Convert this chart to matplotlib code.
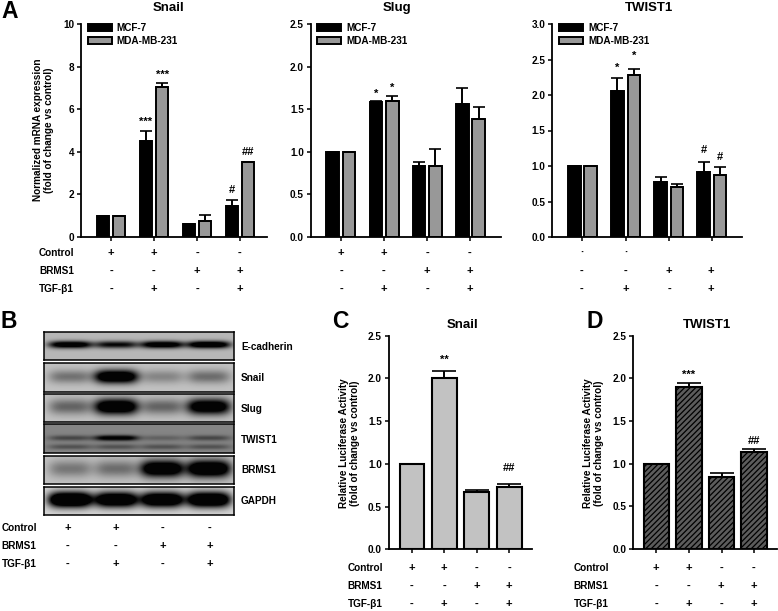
import numpy as np
import matplotlib
matplotlib.use("Agg")
import matplotlib.pyplot as plt

plt.rcParams['font.family'] = ['Liberation Sans', 'DejaVu Sans']
plt.rcParams['font.weight'] = 'bold'
plt.rcParams['hatch.linewidth'] = 0.9

W, H = 778, 611

# panel A values
snail_mcf = [1, 4.5, 0.62, 1.47]
snail_mcf_err = [0, 0.5, 0, 0.25]
snail_mda = [1, 7.05, 0.75, 3.5]
snail_mda_err = [0, 0.2, 0.3, 0]
slug_mcf = [1, 1.58, 0.83, 1.56]
slug_mcf_err = [0, 0.02, 0.05, 0.19]
slug_mda = [1, 1.6, 0.83, 1.38]
slug_mda_err = [0, 0.05, 0.2, 0.15]
twist_mcf = [1, 2.05, 0.78, 0.92]
twist_mcf_err = [0, 0.19, 0.06, 0.14]
twist_mda = [1, 2.28, 0.7, 0.88]
twist_mda_err = [0, 0.09, 0.05, 0.11]

# panels C, D
luc_snail = [1, 2.0, 0.67, 0.73]
luc_snail_err = [0, 0.09, 0.02, 0.03]
luc_twist = [1, 1.9, 0.84, 1.14]
luc_twist_err = [0, 0.04, 0.05, 0.03]

row_names = ["Control", "BRMS1", "TGF-β1"]
signs = [["+", "+", "-", "-"], ["-", "-", "+", "+"], ["-", "+", "-", "+"]]
signs_twist = [["·", "·", "", ""], ["-", "-", "+", "+"], ["-", "+", "-", "+"]]

# panel B band darkness per lane
blot_names = ["E-cadherin", "Snail", "Slug", "TWIST1", "BRMS1", "GAPDH"]
blot_back = [0.72, 0.76, 0.76, 0.52, 0.76, 0.84]
blot_bands = [[1.3, 1.0, 1.3, 1.4],
              [0.42, 1.5, 0.32, 0.45],
              [0.5, 1.5, 0.5, 1.4],
              [0.5, 1.3, 0.28, 0.5],
              [0.4, 0.45, 1.5, 1.6],
              [1.8, 1.6, 1.6, 1.7]]
blot_thick = [0.13, 0.24, 0.28, 0.09, 0.3, 0.27]


def px_axes(left, top, right, bottom):
    return fig.add_axes([left / W, 1 - bottom / H, (right - left) / W, (bottom - top) / H])


def put(x, y, s, size=7.2, ha='center', va='center', **kw):
    fig.text(x / W, 1 - y / H, s, fontsize=size, ha=ha, va=va, **kw)


def style(ax, ymax, step):
    ax.set_ylim(0, ymax)
    ax.set_yticks(np.arange(0, ymax + step / 2, step))
    ax.set_xticks(range(4))
    ax.set_xticklabels([])
    for s in ['top', 'right']:
        ax.spines[s].set_visible(False)
    for s in ['left', 'bottom']:
        ax.spines[s].set_linewidth(1.3)
    ax.tick_params(width=1.1, length=3, labelsize=7.2, pad=2)


def grouped(ax, a, a_err, b, b_err):
    x = np.arange(4)
    kw = dict(ecolor='black', capsize=4.3, capthick=1.2, elinewidth=1.4)
    h1 = ax.bar(x - 0.19, a, 0.29, color='black', edgecolor='black', linewidth=1.4,
                yerr=[np.zeros(4), a_err], error_kw=kw, label='MCF-7')
    h2 = ax.bar(x + 0.19, b, 0.29, color='#989898', edgecolor='black', linewidth=1.4,
                yerr=[np.zeros(4), b_err], error_kw=kw, label='MDA-MB-231')
    ax.legend(handles=[h1, h2], loc='upper left', bbox_to_anchor=(0.035, 1.004), frameon=False,
              fontsize=7.2, handlelength=2.4, handleheight=0.65, labelspacing=0.3,
              handletextpad=0.5, borderpad=0, borderaxespad=0)


def sign_rows(xs, ys, table, label_x):
    for i, name in enumerate(row_names):
        if label_x is not None:
            put(label_x, ys[i], name, ha='right')
        for x, s in zip(xs, table[i]):
            put(x, ys[i], s, 8)


def marks(ax, xs, ys, texts):
    for x, y, t in zip(xs, ys, texts):
        ax.text(x, y, t, ha='center', va='center', fontsize=8)


fig = plt.figure(figsize=(W / 100, H / 100), dpi=100)

# A
ax1 = px_axes(81, 24, 267, 237)
grouped(ax1, snail_mcf, snail_mcf_err, snail_mda, snail_mda_err)
style(ax1, 10, 2)
ax1.set_xlim(-0.70, 3.63)
marks(ax1, [0.81, 1.19, 2.81, 3.19], [5.4, 7.62, 2.2, 3.97], ["***", "***", "#", "##"])

ax2 = px_axes(310.7, 24, 500.7, 237)
grouped(ax2, slug_mcf, slug_mcf_err, slug_mda, slug_mda_err)
style(ax2, 2.5, 0.5)
ax2.set_xlim(-0.70, 3.70)
marks(ax2, [0.81, 1.19], [1.68, 1.75], ["*", "*"])

ax3 = px_axes(552.3, 24, 742, 237)
grouped(ax3, twist_mcf, twist_mcf_err, twist_mda, twist_mda_err)
style(ax3, 3.0, 0.5)
ax3.set_xlim(-0.70, 3.70)
marks(ax3, [0.81, 1.19, 2.81, 3.19], [2.38, 2.55, 1.22, 1.13], ["*", "*", "#", "#"])

rows_a = [253, 270.7, 288.7]
sign_rows([111, 154, 197, 240], rows_a, signs, 74)
sign_rows([341, 384, 427, 470], rows_a, signs, None)
sign_rows([582, 626, 669, 711], rows_a, signs_twist, None)

put(168.7, 8, "Snail", 9.5)
put(397, 8, "Slug", 9.5)
put(648.7, 8, "TWIST1", 9.5)
put(43.5, 130, "Normalized mRNA expression\n(fold of change vs control)", 7.2, rotation=90, linespacing=1.2)

# B
blot_tops = [331.7, 363.3, 393.7, 424.3, 455.7, 486.7]
blot_bottoms = [360, 391.7, 422.3, 453.3, 484.3, 515.3]
label_ys = [347.3, 377.7, 409, 439.7, 470, 501]
lanes = [0.137, 0.38, 0.623, 0.869]
for k, name in enumerate(blot_names):
    ax = px_axes(44, blot_tops[k], 234, blot_bottoms[k])
    xx, yy = np.meshgrid(np.linspace(0, 1, 190), np.linspace(0, 1, 29))
    dark = np.zeros_like(xx)
    for c, d in zip(lanes, blot_bands[k]):
        horiz = np.exp(-((xx - c) / 0.115) ** 4)
        if name == "TWIST1":
            dark += d * horiz * np.exp(-((yy - 0.5) / blot_thick[k]) ** 2)
            dark += 0.4 * horiz * np.exp(-((yy - 0.8) / blot_thick[k]) ** 2)
        else:
            dark += d * horiz * np.exp(-((yy - 0.47) / blot_thick[k]) ** 2)
    ax.imshow(blot_back[k] * (1 - np.clip(dark, 0, 1) * 0.98), cmap='gray', vmin=0, vmax=1,
              aspect='auto', extent=(0, 1, 1, 0))
    ax.set_xticks([])
    ax.set_yticks([])
    for s in ax.spines.values():
        s.set_linewidth(1.1)
    put(241, label_ys[k], name, ha='left')
sign_rows([68, 115.7, 162.7, 210], [528, 545.7, 564], signs, 36.7)

# C
ax4 = px_axes(389, 335.7, 531.7, 549.3)
ax4.bar(range(4), luc_snail, 0.77, color='#c2c2c2', edgecolor='black', linewidth=1.5,
        yerr=[np.zeros(4), luc_snail_err], error_kw=dict(ecolor='black', capsize=8.8, capthick=1.2, elinewidth=1.4))
style(ax4, 2.5, 0.5)
ax4.set_xlim(-0.71, 3.70)
marks(ax4, [1, 3], [2.22, 0.95], ["**", "##"])
sign_rows([412, 444.3, 476.7, 509.3], [567.7, 585.7, 603.7], signs, 382.7)
put(463, 325, "Snail", 9.5)
put(349.5, 443, "Relative Luciferase Activity\n(fold of change vs control)", 7.2, rotation=90, linespacing=1.2)

# D
ax5 = px_axes(633.3, 335.7, 776.7, 548.7)
ax5.bar(range(4), luc_twist, 0.78, color='#5c5c5c', edgecolor='black', linewidth=1.5, hatch='//////',
        yerr=[np.zeros(4), luc_twist_err], error_kw=dict(ecolor='black', capsize=8.8, capthick=1.2, elinewidth=1.4))
style(ax5, 2.5, 0.5)
ax5.set_xlim(-0.705, 3.69)
marks(ax5, [1, 3], [2.04, 1.26], ["***", "##"])
sign_rows([656.3, 688.7, 721.3, 754], [567.7, 585.7, 603.7], signs, 608.7)
put(706.7, 325, "TWIST1", 9.5)
put(593.5, 443, "Relative Luciferase Activity\n(fold of change vs control)", 7.2, rotation=90, linespacing=1.2)

# panel letters
put(1, 11, "A", 16.5, ha='left')
put(1, 321.7, "B", 16.5, ha='left')
put(332, 321.7, "C", 16.5, ha='left')
put(586.7, 321.7, "D", 16.5, ha='left')

fig.savefig("out.png", dpi=100)
